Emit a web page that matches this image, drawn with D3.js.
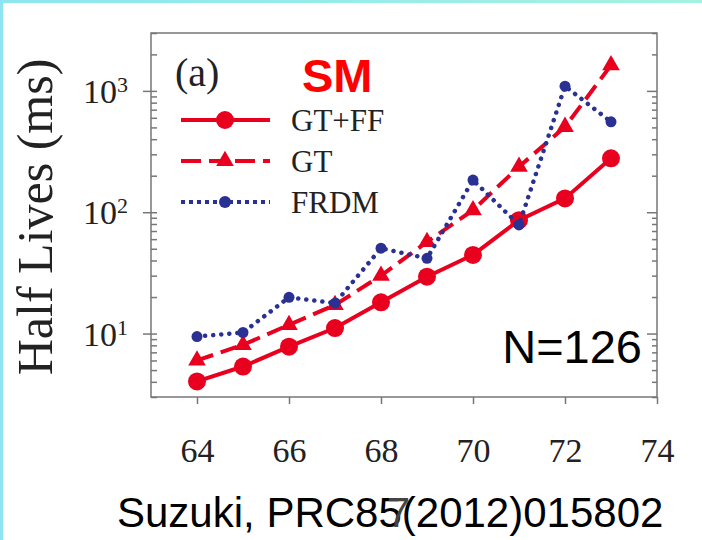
<!DOCTYPE html>
<html>
<head>
<meta charset="utf-8">
<script src="https://cdn.jsdelivr.net/npm/d3@7"></script>
<style>
  html, body { margin: 0; padding: 0; background: #fff; }
  svg { display: block; }
</style>
</head>
<body>
<svg id="chart" width="702" height="540"></svg>
<script>
// Neutron number N (x) for the N=126 isotones
const neutrons = [64, 65, 66, 67, 68, 69, 70, 71, 72, 73];
// Half lives in ms
const gtff = [4.03, 5.35, 7.8, 11.1, 18.1, 29.4, 44.5, 86, 130, 278];
const gtOnly = [6.0, 8.07, 11.8, 17.2, 30, 57, 104, 237, 506, 1626];
const frdm = [9.45, 10.2, 19.9, 17.8, 50.5, 41.7, 184, 78.5, 1094, 556];
const seriesNames = ["GT+FF", "GT", "FRDM"];
const xTicks = [64, 66, 68, 70, 72, 74];
const yMajor = [10, 100, 1000];

const svg = d3.select("#chart");
const W = 702, H = 540;
const plotL = 151, plotR = 657, plotT = 33, plotB = 397;

const serif = "'Liberation Serif', 'Times New Roman', serif";
const sans = "'Liberation Sans', Arial, sans-serif";
const red = "#e8001e", blue = "#2a3192", frameCol = "#777";

// page background with the thin cyan edge
const defs = svg.append("defs");
const grad = defs.append("linearGradient").attr("id", "edge").attr("x1", 0).attr("x2", 1);
grad.append("stop").attr("offset", 0).attr("stop-color", "#8de6ef");
grad.append("stop").attr("offset", 1).attr("stop-color", "#a3f3df");
svg.append("rect").attr("width", W).attr("height", H).attr("fill", "#fff");
svg.append("rect").attr("x", 0).attr("y", 0).attr("width", W).attr("height", 3).attr("fill", "url(#edge)");
svg.append("rect").attr("x", 0).attr("y", 0).attr("width", 3).attr("height", H).attr("fill", "#8de6ef");

const x = d3.scaleLinear().domain([63, 74]).range([plotL, plotR]);
const y = d3.scaleLog().domain([3, 3000]).range([plotB, plotT]);
const allY = y.ticks();
const isMajor = d => Math.abs(Math.log10(d) - Math.round(Math.log10(d))) < 1e-9;

// bottom axis
const gx = svg.append("g").attr("transform", `translate(0,${plotB})`)
  .call(d3.axisBottom(x).tickValues(xTicks).tickSize(7).tickPadding(34).tickFormat(d3.format("d")));
gx.select(".domain").remove();
gx.selectAll("line").attr("stroke", frameCol).attr("stroke-width", 1.5);
gx.selectAll("text").attr("font-family", serif).attr("font-size", 34).attr("fill", "#222");

// left axis: outward majors, inward all
const gl1 = svg.append("g").attr("transform", `translate(${plotL},0)`)
  .call(d3.axisLeft(y).tickValues(yMajor).tickSize(8).tickFormat(""));
const gl2 = svg.append("g").attr("transform", `translate(${plotL},0)`)
  .call(d3.axisRight(y).tickValues(allY).tickSize(6).tickFormat(""));
// right axis: inward ticks, longer on decades
const gr1 = svg.append("g").attr("transform", `translate(${plotR},0)`)
  .call(d3.axisLeft(y).tickValues(allY.filter(d => !isMajor(d))).tickSize(5).tickFormat(""));
const gr2 = svg.append("g").attr("transform", `translate(${plotR},0)`)
  .call(d3.axisLeft(y).tickValues(yMajor).tickSize(10).tickFormat(""));
[gl1, gl2, gr1, gr2].forEach(g => {
  g.select(".domain").remove();
  g.selectAll("line").attr("stroke", frameCol).attr("stroke-width", 1.5);
});

// decade labels
const yl = svg.append("g");
yMajor.forEach(v => {
  const t = yl.append("text").attr("x", 128).attr("y", y(v) + 12)
    .attr("text-anchor", "end").attr("font-family", serif).attr("fill", "#222");
  t.append("tspan").attr("font-size", 34).text("10");
  t.append("tspan").attr("font-size", 22).attr("dy", -11).text(String(Math.round(Math.log10(v))));
});

// frame
svg.append("rect").attr("x", plotL).attr("y", plotT).attr("width", plotR - plotL).attr("height", plotB - plotT)
  .attr("fill", "none").attr("stroke", frameCol).attr("stroke-width", 1.5);

// y-axis title
svg.append("text").attr("transform", `translate(52,${(plotT + plotB) / 2 + 2}) rotate(-90)`)
  .attr("text-anchor", "middle").attr("font-family", serif).attr("font-size", 50).attr("fill", "#222")
  .text("Half Lives (ms)");

const line = d3.line().x((d, i) => x(neutrons[i])).y(d => y(d));
const tri = d3.symbol().type(d3.symbolTriangle).size(135);

// GT+FF
svg.append("path").datum(gtff).attr("d", line).attr("fill", "none").attr("stroke", red).attr("stroke-width", 4);
svg.append("g").selectAll("circle").data(gtff).join("circle")
  .attr("cx", (d, i) => x(neutrons[i])).attr("cy", d => y(d)).attr("r", 9).attr("fill", red);

// GT
svg.append("path").datum(gtOnly).attr("d", line).attr("fill", "none").attr("stroke", red)
  .attr("stroke-width", 4).attr("stroke-dasharray", "17,8");
svg.append("g").selectAll("path").data(gtOnly).join("path")
  .attr("d", tri).attr("transform", (d, i) => `translate(${x(neutrons[i])},${y(d)})`).attr("fill", red);

// FRDM
svg.append("path").datum(frdm).attr("d", line).attr("fill", "none").attr("stroke", blue)
  .attr("stroke-width", 4.5).attr("stroke-dasharray", "0.1,8").attr("stroke-linecap", "round");
svg.append("g").selectAll("circle").data(frdm).join("circle")
  .attr("cx", (d, i) => x(neutrons[i])).attr("cy", d => y(d)).attr("r", 5.5).attr("fill", blue);

// legend
const lg = svg.append("g");
const rows = [120, 161, 202];
lg.append("line").attr("x1", 181).attr("x2", 270).attr("y1", rows[0]).attr("y2", rows[0])
  .attr("stroke", red).attr("stroke-width", 4);
lg.append("circle").attr("cx", 225).attr("cy", rows[0]).attr("r", 9).attr("fill", red);
lg.append("line").attr("x1", 181).attr("x2", 270).attr("y1", rows[1]).attr("y2", rows[1])
  .attr("stroke", red).attr("stroke-width", 4).attr("stroke-dasharray", "20,8,18,8");
lg.append("path").attr("d", tri).attr("transform", `translate(225,${rows[1]})`).attr("fill", red);
lg.append("line").attr("x1", 181).attr("x2", 270).attr("y1", rows[2]).attr("y2", rows[2])
  .attr("stroke", blue).attr("stroke-width", 4).attr("stroke-dasharray", "4,4");
lg.append("circle").attr("cx", 225).attr("cy", rows[2]).attr("r", 6).attr("fill", blue);
seriesNames.forEach((n, i) => {
  lg.append("text").attr("x", 291).attr("y", rows[i] + 11).attr("font-family", serif)
    .attr("font-size", 31).attr("fill", "#222").text(n);
});

// panel annotations
svg.append("text").attr("x", 175).attr("y", 86).attr("font-family", serif).attr("font-size", 40)
  .attr("fill", "#222").text("(a)");
svg.append("text").attr("x", 302).attr("y", 92).attr("font-family", sans).attr("font-weight", "bold")
  .attr("font-size", 47).attr("fill", "#ff0000").text("SM");
svg.append("text").attr("x", 642).attr("y", 363).attr("text-anchor", "end").attr("font-family", sans)
  .attr("font-size", 47).attr("fill", "#000").text("N=126");

// reference line
svg.append("text").attr("x", 117).attr("y", 527).attr("font-family", sans)
  .attr("font-size", 42).attr("fill", "#000").text("Suzuki, PRC85(2012)015802");
const probe = svg.append("text").attr("font-family", sans).attr("font-size", 42).text("Suzuki, PRC85");
const headW = probe.node().getComputedTextLength();
probe.remove();
svg.append("text").attr("x", 117 + headW - 15).attr("y", 527).attr("font-family", sans)
  .attr("font-size", 42).attr("fill", "#444").text("7");
</script>
</body>
</html>
